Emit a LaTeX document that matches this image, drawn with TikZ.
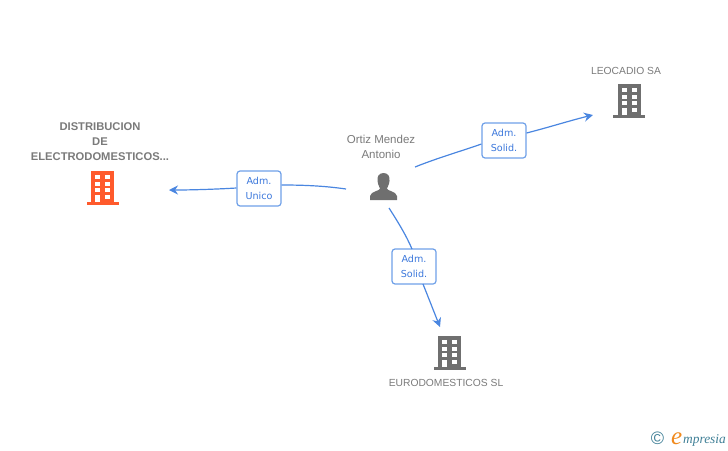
\documentclass[tikz,border=0pt]{standalone}
\usepackage{fontspec}
\setmainfont{Liberation Sans}
\newfontfamily\admfont{DejaVu Sans}
\newfontfamily\logofont{Liberation Serif}
\usetikzlibrary{arrows.meta}
\definecolor{linkblue}{HTML}{4A86E0}
\definecolor{boxblue}{HTML}{6FA0E8}
\definecolor{admblue}{HTML}{3C78DC}
\definecolor{icongray}{HTML}{6F6F6F}
\definecolor{textgray}{HTML}{7A7A7A}
\definecolor{mainorange}{HTML}{FF5A2C}
\definecolor{logoteal}{HTML}{3F7F96}
\definecolor{logoorange}{HTML}{F08A1E}
\tikzset{
	link/.style={draw=linkblue, line width=1.2pt},
	linkarrow/.style={link, -{Stealth[length=9pt,width=9pt]}},
	admbox/.style={draw=boxblue, line width=1.2pt, fill=white, rounded corners=3pt, minimum width=44pt, minimum height=35pt, inner sep=0pt, align=center, text=admblue, font=\admfont\fontsize{9.6}{15}\selectfont},
	company/.style={text=textgray, align=center, inner sep=0pt, font=\fontsize{10.3}{15}\selectfont},
}
% building icon, (#2,#3) is the middle of its foot
\def\building[#1](#2,#3){
	\fill[#1] (#2-11.5,#3-34) rectangle (#2+11.5,#3-2);
	\fill[#1] (#2-16,#3-3) rectangle (#2+16,#3);
	\fill[white] (#2-7.5,#3-30) rectangle (#2-2.5,#3-26);
	\fill[white] (#2+2.5,#3-30) rectangle (#2+7.5,#3-26);
	\fill[white] (#2-7.5,#3-23.5) rectangle (#2-2.5,#3-19);
	\fill[white] (#2+2.5,#3-23.5) rectangle (#2+7.5,#3-19);
	\fill[white] (#2-7.5,#3-17) rectangle (#2-2.5,#3-13);
	\fill[white] (#2+2.5,#3-17) rectangle (#2+7.5,#3-13);
	\fill[white] (#2-7.5,#3-10) rectangle (#2-2.5,#3-3);
	\fill[white] (#2+2.5,#3-10) rectangle (#2+7.5,#3-6);
}
\begin{document}
\begin{tikzpicture}[x=1pt,y=-1pt]
	\useasboundingbox (0,0) rectangle (728,450);
	%%%%% ICONS %%%%%
	\building[mainorange](102.5,205)
	\building[icongray](629,118)
	\building[icongray](449.5,370)

	\fill[icongray] (383.5,173) .. controls (378.5,173) and (377,177) .. (377.5,181) .. controls (378,185) and (379.5,187) .. (380,188.5) .. controls (380,191) and (371,191) .. (370,196) -- (370,200) -- (397,200) -- (397,196) .. controls (396,191) and (387,191) .. (387,188.5) .. controls (387.5,187) and (389,185) .. (389.5,181) .. controls (390,177) and (388.5,173) .. (383.5,173) -- cycle;

	%%%%% TEXTS %%%%%
	\node[company, font=\fontsize{11.2}{15}\selectfont\bfseries] (distribucion) at (100,142) {DISTRIBUCION\\DE\\ELECTRODOMESTICOS...};
	\node[company, font=\fontsize{11.5}{15}\selectfont] (ortiz) at (381,146.5) {Ortiz Mendez\\Antonio};
	\node[company] (leocadio) at (626,70.5) {LEOCADIO SA};
	\node[company] (eurodomesticos) at (446,382.5) {EURODOMESTICOS SL};

	%%%%% LINKS %%%%%
	\node[admbox] (unico) at (259,188.5) {Adm.\\Unico};
	\node[admbox] (solidup) at (504,140.5) {Adm.\\Solid.};
	\node[admbox] (soliddown) at (414,266.5) {Adm.\\Solid.};

	\coordinate (ortizleft) at (346,189);
	\coordinate (ortizright) at (415,167);
	\coordinate (ortizdown) at (389,208);
	\coordinate (distribucionend) at (169,190);
	\coordinate (leocadioend) at (593,115);
	\coordinate (eurodomesticosend) at (440,327);

	\draw[link] (ortizleft) .. controls (325,186) and (305,185) .. (unico.east |- 0,185);
	\draw[linkarrow] (unico.west |- 0,188) .. controls (220,189) and (195,190) .. (distribucionend);
	\draw[link] (ortizright) .. controls (440,157) and (465,150) .. (solidup.west |- 0,144);
	\draw[linkarrow] (solidup.east |- 0,133) .. controls (550,127) and (572,120) .. (leocadioend);
	\draw[link] (ortizdown) .. controls (398,222) and (406,235) .. (412,249);
	\draw[linkarrow] (423,284) -- (eurodomesticosend);

	%%%%% LOGO %%%%%
	\node[inner sep=0pt, text=logoteal, font=\fontsize{18}{18}\selectfont] (copyright) at (657.5,438.5) {©};
	\node[inner sep=0pt, anchor=base west, text=logoorange, font=\logofont\itshape\fontsize{25}{25}\selectfont] (logoe) at (671,444) {e};
	\node[inner sep=0pt, anchor=base west, text=logoteal, font=\logofont\itshape\fontsize{13.4}{14}\selectfont] (logotext) at (683,443) {mpresia};
\end{tikzpicture}
\end{document}
